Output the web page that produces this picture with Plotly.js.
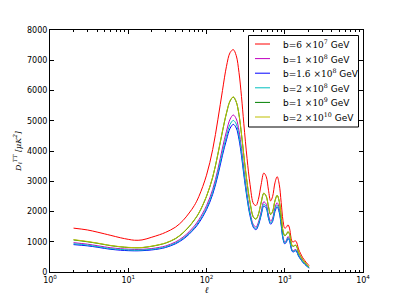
<!DOCTYPE html>
<html>
<head>
<meta charset="utf-8">
<script src="https://cdn.plot.ly/plotly-3.0.1.min.js"></script>
<style>html,body{margin:0;padding:0;background:#fff;}#chart{width:403px;height:303px;}</style>
</head>
<body>
<div id="chart"></div>
<script>
var ell = [2,3,4,5,6,8,10,12,15,20,25,30,40,50,60,70,80,100,120,140,160,180,200,220,240,260,280,300,330,360,400,430,460,500,540,580,620,660,700,750,800,850,900,950,1000,1050,1100,1150,1200,1250,1300,1350,1400,1450,1500,1600,1700,1800,1900,2000,2050];

var seriesMant = ['6','1','1.6','2','1','2'];
var seriesExp = ['7','8','8','8','9','10'];

var red = [1450,1390,1320,1260,1210,1130,1080,1050,1060,1150,1230,1310,1480,1700,1950,2200,2500,3200,4050,5050,6000,6800,7250,7350,7150,6600,5800,4900,3750,2900,2250,2200,2400,2900,3270,3150,2700,2350,2500,2950,3150,2900,2300,1700,1450,1480,1560,1450,1150,1000,1000,1030,1010,900,760,600,470,380,300,240,210];

var magenta = [970,920,870,830,800,770,755,745,750,775,815,860,990,1150,1330,1520,1730,2190,2730,3400,4100,4650,5050,5190,5060,4670,4080,3420,2580,1980,1550,1490,1640,2000,2320,2240,1880,1680,1780,2130,2290,2100,1650,1160,990,1050,1170,1100,860,720,710,740,740,660,560,440,340,270,210,160,140];

var blue = [905,865,820,780,750,720,705,700,705,730,765,810,930,1080,1250,1430,1625,2060,2570,3200,3860,4370,4750,4880,4760,4390,3840,3210,2430,1860,1460,1400,1540,1880,2180,2110,1770,1580,1670,2000,2150,1970,1550,1090,930,990,1100,1035,810,675,665,695,695,620,525,415,320,255,200,150,130];

var cyan = [935,890,840,800,770,745,730,720,725,750,785,830,955,1110,1280,1465,1670,2110,2640,3290,3960,4490,4880,5010,4890,4510,3940,3300,2490,1910,1500,1440,1580,1930,2240,2160,1810,1620,1720,2060,2210,2030,1590,1120,955,1015,1130,1060,830,695,685,715,715,640,540,425,330,260,205,155,135];

var green = [1060,1000,950,905,870,830,810,800,805,850,900,955,1100,1290,1500,1720,1950,2500,3130,3900,4650,5250,5650,5780,5620,5200,4550,3850,2950,2300,1800,1750,1900,2300,2600,2500,2150,1900,2000,2350,2530,2330,1850,1350,1200,1240,1330,1250,1000,860,850,880,870,780,650,510,400,320,250,190,165];

var yellow = [1070,1010,958,912,876,836,815,805,810,856,907,962,1108,1298,1510,1730,1960,2510,3140,3910,4660,5260,5660,5790,5630,5210,4560,3860,2960,2310,1810,1760,1910,2310,2610,2510,2160,1910,2010,2360,2540,2340,1860,1360,1210,1250,1340,1260,1010,868,858,888,878,788,656,515,404,323,252,192,167];

var xTickVals = [1,10,100,1000,10000];
var xTickText = ['10<sup>0</sup>','10<sup>1</sup>','10<sup>2</sup>','10<sup>3</sup>','10<sup>4</sup>'];
var yTickVals = [0,1000,2000,3000,4000,5000,6000,7000,8000];

var colors = ['#ff0000','#bf00bf','#0000ff','#00bfbf','#008000','#bfbf00'];
var allY = [red, magenta, blue, cyan, green, yellow];

var seriesNames = seriesMant.map(function (m, i) {
  return 'b=<span style="font-family:DejaVu Serif">' + m + ' ×10<sup>' + seriesExp[i] + '</sup></span> GeV';
});

var minorVals = [];
for (var d = 0; d < 4; d++) {
  for (var k = 2; k <= 9; k++) minorVals.push(k * Math.pow(10, d));
}

var traces = allY.map(function (ys, i) {
  return {
    x: ell, y: ys, type: 'scatter', mode: 'lines',
    name: seriesNames[i], showlegend: false,
    line: {color: colors[i], width: 1, shape: 'spline', smoothing: 1}
  };
});

// custom legend (paper coordinates), plot area 50..363 x, 30..272 y
var L = 50, W = 313, B = 272, H = 242;
function px(p) { return (p - L) / W; }
function py(p) { return (B - p) / H; }
var shapes = [{
  type: 'rect', xref: 'paper', yref: 'paper',
  x0: px(248.5), x1: px(358.5), y0: py(127), y1: py(35.5),
  line: {color: '#000', width: 1}, fillcolor: '#fff', layer: 'above'
}];
var annotations = [];
var rowY0 = 44, rowStep = 14.6;
seriesNames.forEach(function (nm, i) {
  var yy = rowY0 + i * rowStep;
  shapes.push({
    type: 'line', xref: 'paper', yref: 'paper',
    x0: px(255), x1: px(270), y0: py(yy), y1: py(yy),
    line: {color: colors[i], width: 1}, layer: 'above'
  });
  annotations.push({
    xref: 'paper', yref: 'paper', x: px(281), y: py(yy),
    xanchor: 'left', yanchor: 'middle', showarrow: false,
    text: nm, font: {family: 'DejaVu Sans', size: 9, color: '#000'}
  });
});

var layout = {
  width: 403, height: 303,
  margin: {l: 50, r: 40, t: 30, b: 31},
  paper_bgcolor: '#fff', plot_bgcolor: '#fff',
  font: {family: 'DejaVu Sans', size: 8, color: '#000'},
  showlegend: false,
  shapes: shapes,
  annotations: annotations,
  xaxis: {
    type: 'log', range: [0, 4],
    tickmode: 'array', tickvals: xTickVals, ticktext: xTickText,
    ticks: 'inside', ticklen: 4, tickcolor: '#000', tickwidth: 1,
    showline: true, linecolor: '#000', linewidth: 1, mirror: 'ticks',
    showgrid: false, zeroline: false,
    minor: {tickmode: 'array', tickvals: minorVals, ticks: 'inside', ticklen: 2, tickcolor: '#000', showgrid: false},
    title: {text: '<i>ℓ</i>', font: {family: 'DejaVu Serif', size: 9}, standoff: 2},
    tickfont: {size: 8}
  },
  yaxis: {
    range: [0, 8000],
    tickmode: 'array', tickvals: yTickVals,
    ticks: 'inside', ticklen: 4, tickcolor: '#000', tickwidth: 1,
    showline: true, linecolor: '#000', linewidth: 1, mirror: 'ticks',
    showgrid: false, zeroline: false,
    title: {text: '<i>D<sub>ℓ</sub><sup>TT</sup> [μK<sup>2</sup>]</i>', font: {family: 'DejaVu Serif', size: 8}, standoff: 4},
    tickfont: {size: 8}
  }
};

Plotly.newPlot('chart', traces, layout, {displayModeBar: false, staticPlot: true});
</script>
</body>
</html>
